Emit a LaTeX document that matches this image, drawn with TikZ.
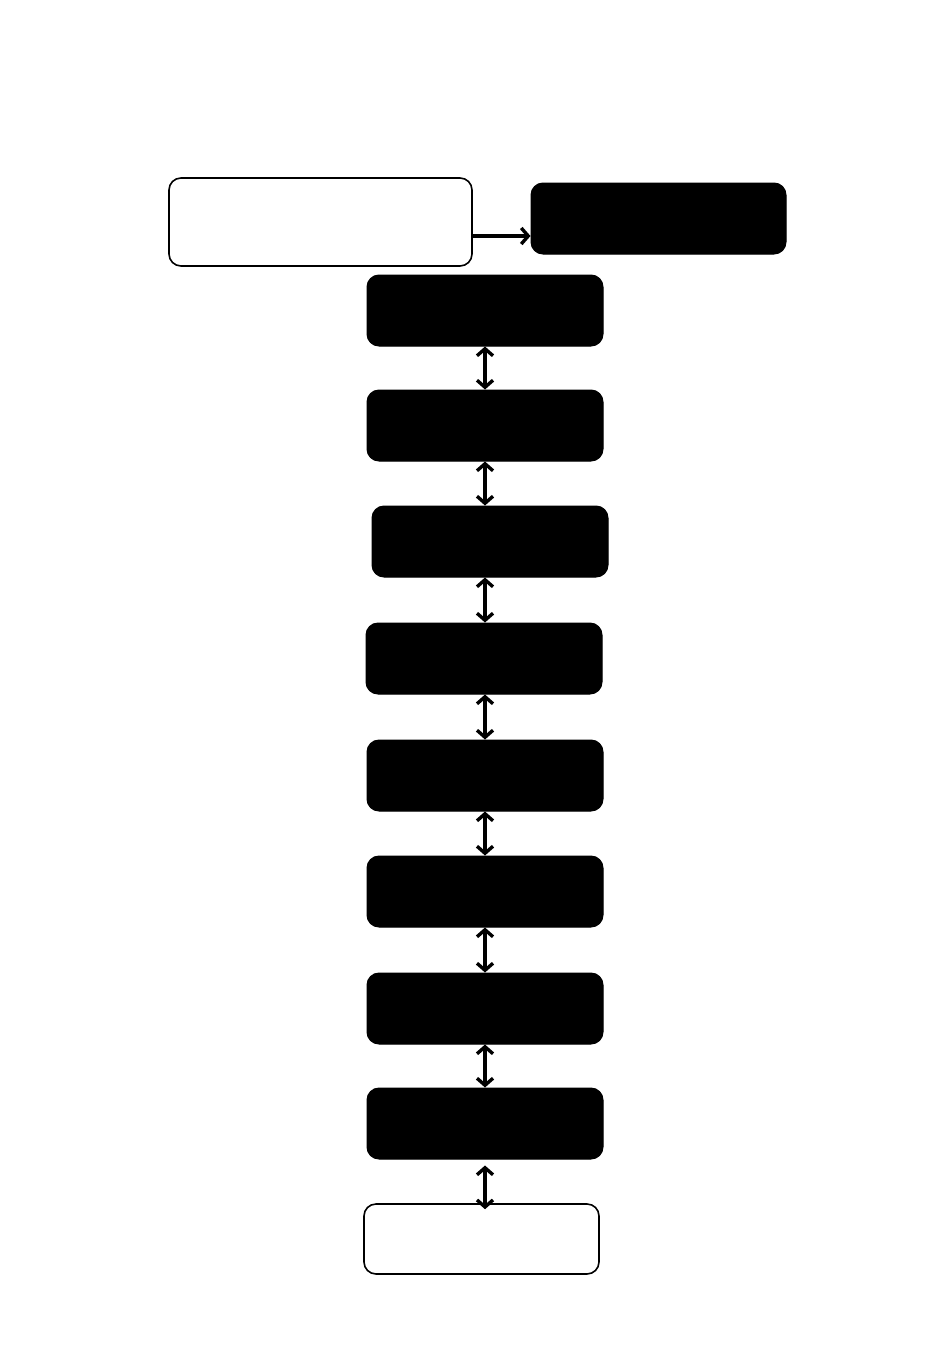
\documentclass[tikz,border=0pt]{standalone}
\usetikzlibrary{arrows.meta}
\begin{document}
\begin{tikzpicture}[x=0.5pt,y=-0.5pt,
  whitebox/.style={draw=black,line width=0.8pt,fill=white,rounded corners=6pt,inner sep=0pt},
  blackbox/.style={draw=black,fill=black,line width=0.5pt,rounded corners=6pt,inner sep=0pt},
  tip/.style={},
  arr/.style={line width=1.7pt,-{Straight Barb[length=3.5pt,width=8pt,line width=1.7pt]}},
  dbl/.style={line width=1.7pt,{Straight Barb[length=3.5pt,width=8pt,line width=1.7pt]}-{Straight Barb[length=3.5pt,width=8pt,line width=1.7pt]}}]
\useasboundingbox[fill=white] (0,0) rectangle (950,1360);
\node[whitebox,minimum width=151.5pt,minimum height=44pt] (w1) at (320.5,222) {};
\node[blackbox,minimum width=127.5pt,minimum height=35.5pt] (b0) at (658.5,218.5) {};
\node[blackbox,minimum width=118pt,minimum height=35.5pt] (b1) at (485,310.5) {};
\node[blackbox,minimum width=118pt,minimum height=35.5pt] (b2) at (485,425.5) {};
\node[blackbox,minimum width=118pt,minimum height=35.5pt] (b3) at (490,541.5) {};
\node[blackbox,minimum width=118pt,minimum height=35.5pt] (b4) at (484,658.5) {};
\node[blackbox,minimum width=118pt,minimum height=35.5pt] (b5) at (485,775.5) {};
\node[blackbox,minimum width=118pt,minimum height=35.5pt] (b6) at (485,891.5) {};
\node[blackbox,minimum width=118pt,minimum height=35.5pt] (b7) at (485,1008.5) {};
\node[blackbox,minimum width=118pt,minimum height=35.5pt] (b8) at (485,1123.5) {};
\node[whitebox,minimum width=117.5pt,minimum height=35pt] (w2) at (481.5,1239) {};
\draw[arr] ([yshift=-7pt]w1.east) -- ([yshift=-7pt]w1.east -| b0.west);
\draw[dbl] (b1.south) -- (b2.north -| b1.south);
\draw[dbl] (b2.south -| b1.south) -- (b3.north -| b1.south);
\draw[dbl] (b3.south -| b1.south) -- (b4.north -| b1.south);
\draw[dbl] (b4.south -| b1.south) -- (b5.north -| b1.south);
\draw[dbl] (b5.south -| b1.south) -- (b6.north -| b1.south);
\draw[dbl] (b6.south -| b1.south) -- (b7.north -| b1.south);
\draw[dbl] (b7.south -| b1.south) -- (b8.north -| b1.south);
\draw[dbl] ([yshift=-3pt]b8.south -| b1.south) -- ([yshift=-3pt]w2.north -| b1.south);
\end{tikzpicture}
\end{document}
